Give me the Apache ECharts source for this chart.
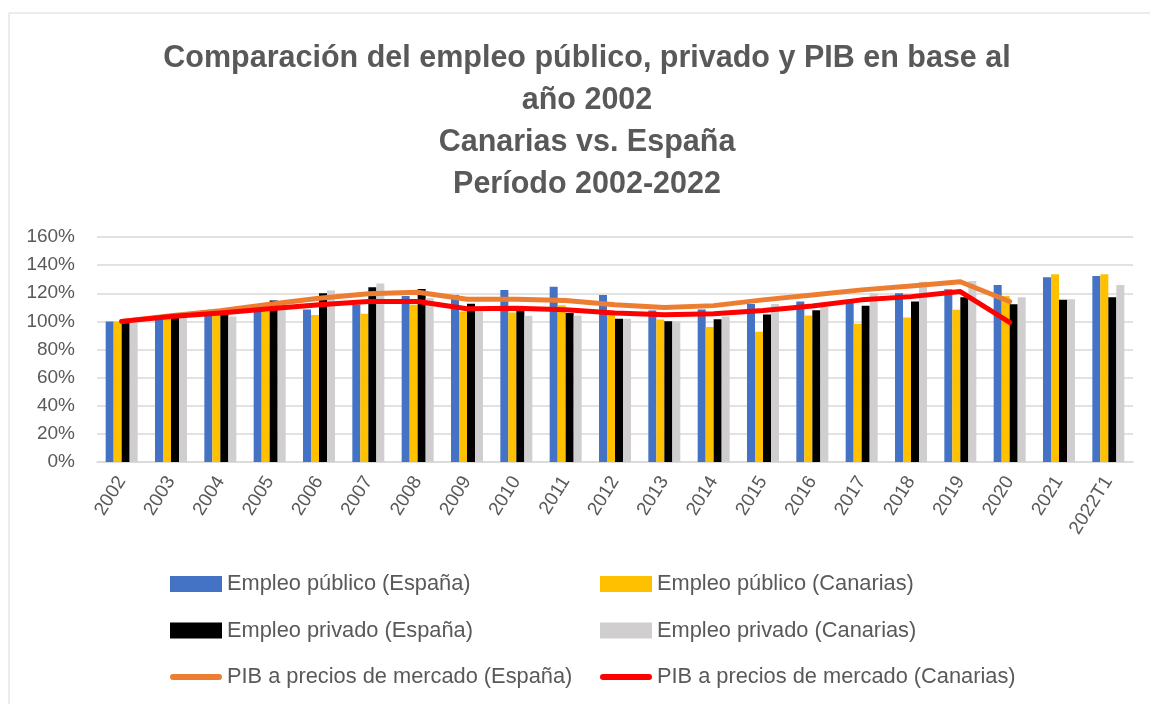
<!DOCTYPE html>
<html>
<head>
<meta charset="utf-8">
<script src="https://cdn.jsdelivr.net/npm/echarts@6/dist/echarts.min.js"></script>
<style>
  html, body { margin: 0; padding: 0; background: #fff; }
  #chart { width: 1150px; height: 704px; }
</style>
</head>
<body>
<div id="chart"></div>
<script>
const years = ["2002", "2003", "2004", "2005", "2006", "2007", "2008", "2009", "2010", "2011", "2012",
  "2013", "2014", "2015", "2016", "2017", "2018", "2019", "2020", "2021", "2022T1"];

// values in % (base 2002 = 100)
const publicoEspana = [100, 104.5, 108, 111, 108.5, 112, 118, 118.8, 122.4, 124.7, 118.8,
  107.8, 108.5, 112.4, 114.2, 113.5, 120, 122.8, 125.9, 131.3, 132.2];
const publicoCanarias = [100, 102, 104.7, 107, 104.5, 105.4, 111.8, 107, 106.4, 111.5, 104.5,
  101.4, 96, 92.6, 104.1, 98.4, 102.8, 108.2, 118, 133.6, 133.6];
const privadoEspana = [100, 103, 105, 114.8, 120, 124.2, 123.1, 112.5, 108, 106, 101.9,
  100.1, 101.5, 104.9, 108, 111.2, 114.1, 117.2, 112.2, 115.3, 117.2];
const privadoCanarias = [99.5, 105.4, 103.5, 113.4, 121.9, 127, 116.5, 107, 104, 104.1, 101.9,
  100, 103.4, 112.4, 110.5, 120, 128.2, 128.7, 117.2, 115.8, 125.9];
const pibEspana = [100, 104, 107.5, 112.2, 116.5, 119.6, 120.7, 115.8, 115.8, 114.8, 111.8,
  109.9, 111.2, 115.3, 118.8, 122.4, 125.2, 128.2, 114.1, null, null];
const pibCanarias = [100, 103.5, 106, 109, 111.8, 114.1, 114.1, 109, 109.4, 108.2, 105.9,
  104.7, 105.4, 107.8, 111, 115.3, 117.6, 121.2, 99.3, null, null];

const yTicks = [0, 20, 40, 60, 80, 100, 120, 140, 160];

const txt = "#595959";
const font = "'Liberation Sans', Arial, sans-serif";

const chart = echarts.init(document.getElementById("chart"));

const barSeries = (name, data, color) => ({
  name: name,
  type: "bar",
  data: data,
  barWidth: 8,
  barGap: "0%",
  itemStyle: { color: color },
  z: 2
});
const lineSeries = (name, data, color, z) => ({
  name: name,
  type: "line",
  data: data,
  symbol: "none",
  lineStyle: { color: color, width: 5, cap: "round", join: "round" },
  itemStyle: { color: color },
  z: z
});

// thick line icon, padded to the full 52x16 icon box
const lineIcon = "path://M0,0M52,16M3,5L49,5A3,3 0 0 1 49,11L3,11A3,3 0 0 1 3,5Z";

const legendStyle = {
  orient: "vertical",
  top: 568,
  height: 140,
  itemWidth: 52,
  itemHeight: 16,
  itemGap: 24.5,
  textStyle: { color: txt, fontSize: 21.8, lineHeight: 22, fontFamily: font }
};

chart.setOption({
  backgroundColor: "#fff",
  animation: false,
  graphic: [{
    type: "rect",
    shape: { x: 9, y: 13, width: 1200, height: 760 },
    style: { fill: "none", stroke: "#d9d9d9", lineWidth: 1 },
    silent: true
  }],
  title: {
    text: "Comparación del empleo público, privado y PIB en base al\naño 2002\nCanarias vs. España\nPeríodo 2002-2022",
    left: 582,
    textAlign: "center",
    top: 33,
    textStyle: {
      color: txt,
      fontSize: 30.5,
      fontWeight: "bold",
      fontFamily: font,
      lineHeight: 42
    }
  },
  legend: [
    Object.assign({}, legendStyle, {
      left: 165,
      data: [
        { name: "Empleo público (España)", icon: "rect" },
        { name: "Empleo privado (España)", icon: "rect" },
        { name: "PIB a precios de mercado (España)", icon: lineIcon }
      ]
    }),
    Object.assign({}, legendStyle, {
      left: 595,
      data: [
        { name: "Empleo público (Canarias)", icon: "rect" },
        { name: "Empleo privado (Canarias)", icon: "rect" },
        { name: "PIB a precios de mercado (Canarias)", icon: lineIcon }
      ]
    })
  ],
  grid: { left: 97, right: 17, top: 237, bottom: 242 },
  xAxis: {
    type: "category",
    data: years,
    axisLine: { lineStyle: { color: "#d9d9d9", width: 1.5 } },
    axisTick: { show: false },
    axisLabel: {
      color: txt,
      fontSize: 19,
      fontFamily: font,
      rotate: 58,
      interval: 0,
      margin: 16
    }
  },
  yAxis: {
    type: "value",
    min: 0,
    max: 160,
    interval: 20,
    axisLine: { show: false },
    axisTick: { show: false },
    splitLine: { lineStyle: { color: "#d9d9d9", width: 1.5 } },
    axisLabel: {
      color: txt,
      fontSize: 19,
      fontFamily: font,
      margin: 22,
      formatter: v => yTicks.includes(v) ? v + "%" : ""
    }
  },
  series: [
    barSeries("Empleo público (España)", publicoEspana, "#4472C4"),
    barSeries("Empleo público (Canarias)", publicoCanarias, "#FFC000"),
    barSeries("Empleo privado (España)", privadoEspana, "#000000"),
    barSeries("Empleo privado (Canarias)", privadoCanarias, "#D0CECE"),
    lineSeries("PIB a precios de mercado (España)", pibEspana, "#ED7D31", 5),
    lineSeries("PIB a precios de mercado (Canarias)", pibCanarias, "#FF0000", 6)
  ]
});
</script>
</body>
</html>
